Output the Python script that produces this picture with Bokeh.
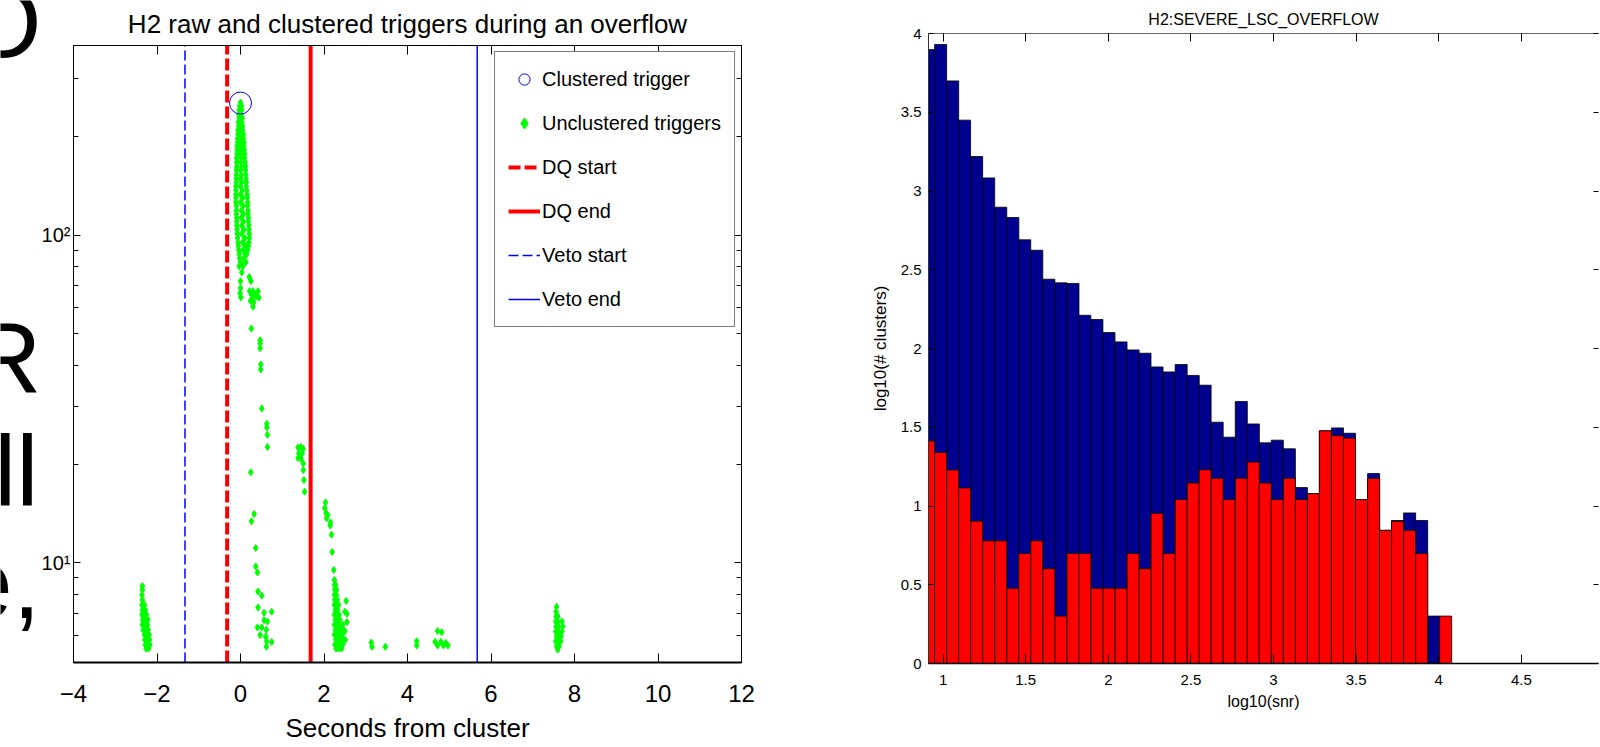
import math
from bokeh.plotting import figure
from bokeh.models import (FixedTicker, LinearAxis, LogAxis, Legend,
                          LegendItem, Range1d)
from bokeh.layouts import row, column
from bokeh.embed import file_html
from bokeh.resources import INLINE
from bokeh.core.properties import value

SANS = "Liberation Sans"

# ---------------- slide text fragments (left edge) ----------------
slide_text = ["O", "R", "ll", "e,"]

# ---------------- left panel data ----------------
clustered_x = [0.0]
clustered_y = [253]

main_pts = [
    (0.0, 254), (-0.02, 248), (0.02, 248), (-0.03, 241), (0.03, 241),
    (-0.04, 234), (0.02, 234), (-0.03, 228), (0.04, 228), (-0.05, 221), (0.03, 221),
    (-0.04, 215), (0.05, 215), (-0.06, 209), (0.0, 209), (0.05, 209),
    (-0.06, 203), (0.03, 203), (0.07, 203), (-0.07, 197), (0.0, 197), (0.07, 197),
    (-0.07, 192), (0.02, 192), (0.08, 192), (-0.08, 187), (0.0, 187), (0.08, 187),
    (-0.08, 182), (0.02, 182), (0.09, 182), (-0.08, 177), (0.0, 177), (0.1, 177),
    (-0.09, 172), (0.02, 172), (0.1, 172), (-0.09, 167), (0.0, 167), (0.11, 167),
    (-0.09, 162), (0.03, 162), (0.12, 162), (-0.1, 158), (0.0, 158), (0.12, 158),
    (-0.1, 153), (0.02, 153), (0.13, 153), (-0.1, 149), (0.0, 149), (0.13, 149),
    (-0.1, 145), (0.03, 145), (0.14, 145), (-0.11, 141), (0.0, 141), (0.14, 141),
    (-0.11, 137), (0.04, 137), (0.15, 137), (-0.11, 133), (0.0, 133), (0.16, 133),
    (-0.11, 130), (0.05, 130), (0.16, 130), (-0.11, 126), (0.0, 126), (0.17, 126),
    (-0.1, 123), (0.06, 123), (0.17, 123), (-0.1, 119), (0.02, 119), (0.18, 119),
    (-0.1, 116), (0.07, 116), (0.18, 116), (-0.09, 113), (0.02, 113), (0.19, 113),
    (-0.09, 110), (0.07, 110), (0.19, 110), (-0.09, 107), (0.03, 107), (0.2, 107),
    (-0.08, 104), (0.08, 104), (0.2, 104), (-0.08, 101), (0.03, 101), (0.21, 101),
    (-0.07, 98), (0.1, 98), (0.21, 98), (-0.06, 95), (0.05, 95), (0.2, 95),
    (-0.05, 92.6), (0.12, 92.6), (0.19, 92.6), (-0.04, 90), (0.06, 90), (0.17, 90),
    (-0.03, 87.5), (0.12, 87.5), (0.15, 87.5), (-0.02, 85), (0.08, 85),
    (0.0, 82.7), (0.13, 82.7), (-0.03, 80.4), (0.06, 80.4), (0.03, 77),
    (0.21, 74.5), (0.0, 72.4), (0.25, 72.4), (0.0, 69), (-0.01, 66.5), (0.01, 64.6),
]
near_pts = [
    (0.22, 67.5), (0.26, 66), (0.3, 67.5), (0.34, 66), (0.28, 64), (0.24, 63),
    (0.32, 62.5), (0.3, 60.5), (0.42, 67.5), (0.44, 64.5), (0.38, 65),
    (0.26, 51.9), (0.47, 47.8), (0.47, 46.8), (0.47, 45.2), (0.485, 40.3),
    (0.485, 38.9), (0.51, 29.6), (0.63, 26.6), (0.63, 25.9), (0.645, 24.6),
    (0.645, 22.6), (0.246, 18.9), (0.327, 14.1), (0.263, 13.4), (0.365, 11.1),
    (0.365, 9.76), (0.406, 9.35), (0.42, 8.18), (0.51, 7.95), (0.42, 7.31),
    (0.565, 7.05), (0.747, 7.1), (0.645, 6.63), (0.565, 6.69), (0.406, 6.36),
    (0.51, 6.36), (0.62, 6.25), (0.47, 6.03), (0.604, 5.96), (0.628, 5.77),
    (0.747, 5.74), (0.62, 5.55),
]
mid_pts = [
    (1.38, 22.5), (1.45, 22.6), (1.5, 22.3), (1.4, 21.6), (1.48, 21.6),
    (1.38, 20.9), (1.45, 20.8), (1.504, 20.1), (1.504, 19.2), (1.52, 17.9),
    (1.535, 16.5),
    (2.036, 15.3), (2.02, 14.7), (2.05, 14.2), (2.09, 14.0), (2.06, 13.7),
    (2.155, 13.3), (2.15, 13.0), (2.18, 12.2), (2.196, 10.8), (2.236, 9.52),
    (2.25, 8.88), (2.25, 8.57), (2.28, 8.57), (2.26, 8.28), (2.3, 8.28),
    (2.25, 7.99), (2.3, 7.99), (2.26, 7.72), (2.32, 7.72), (2.25, 7.45),
    (2.3, 7.45), (2.35, 7.45), (2.27, 7.19), (2.33, 7.19), (2.25, 6.95),
    (2.3, 6.95), (2.36, 6.95), (2.27, 6.71), (2.33, 6.71), (2.38, 6.71),
    (2.25, 6.48), (2.3, 6.48), (2.36, 6.48), (2.45, 6.48), (2.27, 6.25),
    (2.33, 6.25), (2.39, 6.25), (2.47, 6.25), (2.25, 6.04), (2.3, 6.04),
    (2.36, 6.04), (2.44, 6.04), (2.28, 5.83), (2.34, 5.83), (2.4, 5.83),
    (2.47, 5.83), (2.26, 5.63), (2.32, 5.63), (2.38, 5.63), (2.45, 5.63),
    (2.29, 5.48), (2.35, 5.48), (2.42, 5.48),
    (2.53, 7.66), (2.55, 7.0), (2.55, 6.6), (2.51, 5.83), (2.5, 7.1), (2.5, 6.2),
]
far_pts = [
    (3.135, 5.72), (3.15, 5.55), (3.47, 5.55), (4.22, 5.77), (4.22, 5.6),
    (4.72, 6.2), (4.82, 6.15), (4.66, 5.75), (4.72, 5.6), (4.8, 5.75),
    (4.86, 5.6), (4.92, 5.7), (4.97, 5.6),
]
neg_pts = [
    (-2.35, 8.5), (-2.35, 8.28), (-2.36, 7.99), (-2.35, 7.72), (-2.36, 7.45),
    (-2.3, 7.45), (-2.35, 7.19), (-2.28, 7.19), (-2.36, 6.95), (-2.3, 6.95),
    (-2.25, 6.95), (-2.34, 6.71), (-2.28, 6.71), (-2.22, 6.71), (-2.35, 6.48),
    (-2.29, 6.48), (-2.23, 6.48), (-2.33, 6.25), (-2.27, 6.25), (-2.21, 6.25),
    (-2.3, 6.04), (-2.24, 6.04), (-2.19, 6.04), (-2.29, 5.83), (-2.23, 5.83),
    (-2.18, 5.83), (-2.28, 5.63), (-2.22, 5.63), (-2.17, 5.63), (-2.26, 5.48),
    (-2.2, 5.48),
]
late_pts = [
    (7.57, 7.35), (7.56, 7.1), (7.56, 6.87), (7.6, 6.87), (7.55, 6.63),
    (7.6, 6.63), (7.7, 6.63), (7.56, 6.4), (7.62, 6.4), (7.72, 6.4),
    (7.55, 6.18), (7.61, 6.18), (7.7, 6.18), (7.57, 5.97), (7.63, 5.97),
    (7.68, 5.97), (7.55, 5.77), (7.61, 5.77), (7.67, 5.77), (7.57, 5.57),
    (7.63, 5.57), (7.6, 5.44),
]
all_pts = main_pts + near_pts + mid_pts + far_pts + neg_pts + late_pts
unclustered_x = [p[0] for p in all_pts]
unclustered_y = [p[1] for p in all_pts]

dq_start = -0.32
dq_end = 1.68
veto_start = -1.33
veto_end = 5.67

x_ticks_left = [-4, -2, 0, 2, 4, 6, 8, 10, 12]
y_major_left = [10, 100]
y_minor_left = [6, 7, 8, 9, 20, 30, 40, 50, 60, 70, 80, 90, 200, 300]
y_labels_left = {10: "10\u00b9", 100: "10\u00b2"}

# ---------------- right panel data ----------------
bin_centers = [0.912, 0.985, 1.058, 1.130, 1.203, 1.276, 1.349, 1.422, 1.494,
               1.567, 1.640, 1.713, 1.786, 1.858, 1.931, 2.004, 2.077, 2.150,
               2.222, 2.295, 2.368, 2.441, 2.514, 2.586, 2.659, 2.732, 2.805,
               2.878, 2.950, 3.023, 3.096, 3.169, 3.242, 3.314, 3.387, 3.460,
               3.533, 3.606, 3.678, 3.751, 3.824, 3.897, 3.970, 4.042]
NaN = float("nan")
all_clusters = [3.898, 3.930, 3.699, 3.450, 3.219, 3.083, 2.897, 2.832, 2.690,
                2.624, 2.440, 2.417, 2.413, 2.211, 2.184, 2.101, 2.042, 1.991,
                1.970, 1.883, 1.851, 1.898, 1.829, 1.767, 1.532, 1.437, 1.663,
                1.521, 1.401, 1.418, 1.363, 1.117, 1.079, 1.477, 1.496, 1.462,
                1.041, 1.206, 0.846, 0.908, 0.956, 0.908, 0.301, NaN]
vetoed_clusters = [1.413, 1.340, 1.229, 1.115, 0.904, 0.779, 0.779, 0.477, 0.699,
                   0.779, 0.602, 0.301, 0.699, 0.699, 0.477, 0.477, 0.477, 0.699,
                   0.602, 0.954, 0.699, 1.041, 1.146, 1.230, 1.176, 1.041, 1.176,
                   1.279, 1.146, 1.041, 1.176, 1.041, 1.079, 1.477, 1.447, 1.431,
                   1.041, 1.176, 0.845, 0.903, 0.845, 0.699, NaN, 0.301]
bin_width = 0.0728
x_ticks_right = [1, 1.5, 2, 2.5, 3, 3.5, 4, 4.5, 5]
y_ticks_right = [0, 0.5, 1, 1.5, 2, 2.5, 3, 3.5, 4]


def finite(xs, ys):
    keep = [(a, b) for a, b in zip(xs, ys) if not math.isnan(b)]
    return [k[0] for k in keep], [k[1] for k in keep]


def mirror_axis(cls, ticks, tick_in, minor=None, minor_in=0, line_color="black"):
    tk = FixedTicker(ticks=ticks, minor_ticks=minor or [])
    return cls(ticker=tk, major_tick_in=tick_in, major_tick_out=0,
               minor_tick_in=minor_in, minor_tick_out=0,
               minor_tick_line_color=("black" if minor else None),
               major_label_text_color=None, major_label_text_font_size="1px",
               major_label_standoff=0, axis_line_color=line_color)


H = 747

# =============== slide fragments strip ===============
p0 = figure(width=38, height=H, x_range=Range1d(0, 38), y_range=Range1d(H, 0),
            output_backend="svg", toolbar_location=None, min_border=0)
p0.axis.visible = False
p0.grid.visible = False
p0.outline_line_color = None
p0.text(x=[41, 41, 38, 40], y=[21, 357, 470, 583], text=slide_text,
        text_align="right", text_baseline="alphabetic",
        text_font=value(SANS), text_font_size="100px", text_color="black")

# =============== left figure ===============
y_lo, y_hi = 4.97, 379
p1 = figure(width=762, height=H, x_range=Range1d(-4, 12),
            y_range=Range1d(y_lo, y_hi), y_axis_type="log",
            output_backend="svg", toolbar_location=None,
            min_border_left=32, min_border_right=59, min_border_top=45,
            min_border_bottom=85)
p1.grid.visible = False
p1.outline_line_color = "black"

xa = p1.xaxis[0]
xa.ticker = FixedTicker(ticks=x_ticks_left)
xa.major_tick_in = 9
xa.major_tick_out = 0
xa.minor_tick_line_color = None
xa.axis_line_width = 2
xa.axis_line_color = "black"
xa.major_label_text_font = SANS
xa.major_label_text_font_size = "24px"
xa.major_label_text_color = "black"
xa.major_label_standoff = 22
xa.axis_label = "Seconds from cluster"
xa.axis_label_text_font = SANS
xa.axis_label_text_font_size = "26px"
xa.axis_label_text_font_style = "normal"
xa.axis_label_text_color = "black"
xa.axis_label_standoff = 8

ya = p1.yaxis[0]
ya.ticker = FixedTicker(ticks=y_major_left, minor_ticks=y_minor_left)
ya.major_label_overrides = y_labels_left
ya.major_tick_in = 7
ya.major_tick_out = 0
ya.minor_tick_in = 5
ya.minor_tick_out = 0
ya.axis_line_color = "black"
ya.major_label_text_font = SANS
ya.major_label_text_font_size = "20px"
ya.major_label_text_color = "black"
ya.major_label_standoff = 3

p1.add_layout(mirror_axis(LinearAxis, x_ticks_left, 9), "above")
p1.add_layout(mirror_axis(LogAxis, y_major_left, 7, y_minor_left, 5), "right")

p1.title.text = "H2 raw and clustered triggers during an overflow"
p1.title.align = "center"
p1.title.text_font = SANS
p1.title.text_font_size = "26px"
p1.title.text_font_style = "normal"
p1.title.text_color = "black"
p1.title.standoff = 13

r_unc = p1.scatter(x=unclustered_x, y=unclustered_y, marker="diamond", size=7,
                   fill_color="#00FF00", line_color="#00FF00")
r_clu = p1.scatter(x=clustered_x, y=clustered_y, marker="circle", size=22,
                   fill_color=None, line_color="blue", line_width=1)
r_dqs = p1.segment(x0=[dq_start], y0=[y_lo], x1=[dq_start], y1=[y_hi],
                   line_color="red", line_width=4, line_dash="12 4")
r_dqe = p1.segment(x0=[dq_end], y0=[y_lo], x1=[dq_end], y1=[y_hi],
                   line_color="red", line_width=4)
r_vs = p1.segment(x0=[veto_start], y0=[y_lo], x1=[veto_start], y1=[y_hi],
                  line_color="blue", line_width=1.5, line_dash="10 4")
r_ve = p1.segment(x0=[veto_end], y0=[y_lo], x1=[veto_end], y1=[y_hi],
                  line_color="blue", line_width=1.5)

legend = Legend(items=[
    LegendItem(label="Clustered trigger", renderers=[r_clu]),
    LegendItem(label="Unclustered triggers", renderers=[r_unc]),
    LegendItem(label="DQ start", renderers=[r_dqs]),
    LegendItem(label="DQ end", renderers=[r_dqe]),
    LegendItem(label="Veto start", renderers=[r_vs]),
    LegendItem(label="Veto end", renderers=[r_ve]),
], location="top_right")
legend.label_text_font = SANS
legend.label_text_font_size = "20px"
legend.label_text_color = "black"
legend.glyph_width = 32
legend.glyph_height = 28
legend.label_height = 28
legend.spacing = 16
legend.padding = 13
legend.margin = 6
legend.label_standoff = 2
legend.border_line_color = "black"
legend.border_line_width = 1
legend.background_fill_color = "white"
legend.background_fill_alpha = 1
p1.add_layout(legend)

# =============== right figure ===============
x_lo, x_hi = 0.9116, 4.9673
p2 = figure(width=800, height=H, x_range=Range1d(x_lo, x_hi),
            y_range=Range1d(0, 4), output_backend="svg", toolbar_location=None,
            min_border_left=128, min_border_right=2, min_border_top=33,
            min_border_bottom=84)
p2.grid.visible = False
p2.outline_line_color = None

bx, bt = finite(bin_centers, all_clusters)
p2.vbar(x=bx, width=bin_width, top=bt, bottom=0,
        fill_color="#00008F", line_color="black", line_width=0.8)
rx, rt = finite(bin_centers, vetoed_clusters)
p2.vbar(x=rx, width=bin_width, top=rt, bottom=0,
        fill_color="#FF0000", line_color="black", line_width=0.8)

xb = p2.xaxis[0]
xb.ticker = FixedTicker(ticks=x_ticks_right)
xb.major_tick_in = 9
xb.major_tick_out = 0
xb.minor_tick_line_color = None
xb.axis_line_width = 1.5
xb.axis_line_color = "black"
xb.major_label_text_font = SANS
xb.major_label_text_font_size = "15px"
xb.major_label_text_color = "black"
xb.major_label_standoff = 11
xb.axis_label = "log10(snr)"
xb.axis_label_text_font = SANS
xb.axis_label_text_font_size = "16px"
xb.axis_label_text_font_style = "normal"
xb.axis_label_text_color = "black"
xb.axis_label_standoff = 5

yb = p2.yaxis[0]
yb.ticker = FixedTicker(ticks=y_ticks_right)
yb.major_tick_in = 5
yb.major_tick_out = 0
yb.minor_tick_line_color = None
yb.axis_line_color = "#333333"
yb.major_label_text_font = SANS
yb.major_label_text_font_size = "15px"
yb.major_label_text_color = "black"
yb.major_label_standoff = 7
yb.axis_label = "log10(# clusters)"
yb.axis_label_text_font = SANS
yb.axis_label_text_font_size = "17px"
yb.axis_label_text_font_style = "normal"
yb.axis_label_text_color = "black"
yb.axis_label_standoff = 8

p2.add_layout(mirror_axis(LinearAxis, x_ticks_right, 8, line_color="#666666"), "above")
p2.add_layout(mirror_axis(LinearAxis, y_ticks_right, 5, line_color=None), "right")

p2.title.text = "H2:SEVERE_LSC_OVERFLOW"
p2.title.align = "center"
p2.title.text_font = SANS
p2.title.text_font_size = "16px"
p2.title.text_font_style = "normal"
p2.title.text_color = "black"
p2.title.standoff = 11

# each panel wrapped on its own so the row does not align their frames
layout = row(p0, column(p1), column(p2), spacing=0)
open("out.html", "w").write(file_html(layout, INLINE))
